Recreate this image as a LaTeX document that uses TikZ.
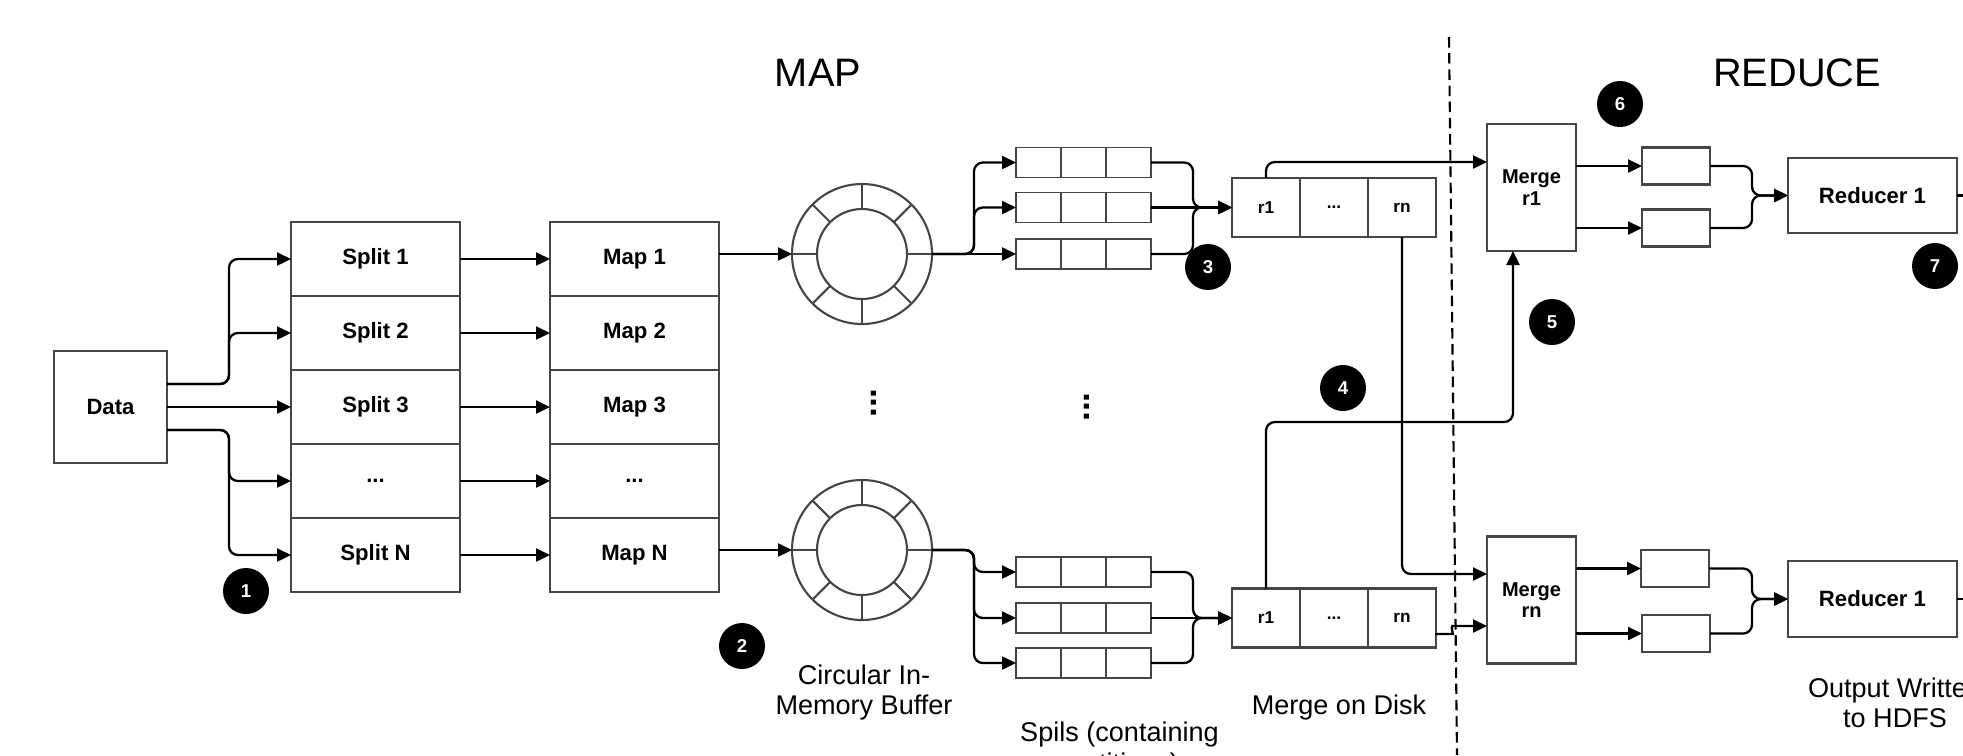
\documentclass[tikz,border=0pt]{standalone}
\usepackage{fontspec}
\setmainfont{Liberation Sans}
\usetikzlibrary{positioning,arrows.meta,calc}
\usepackage{xcolor}
\definecolor{boxline}{HTML}{454545}

\begin{document}
\begin{tikzpicture}[
      blk/.style={draw=boxline,line width=0.6pt,minimum width=1.69cm,minimum height=0.74cm,
                  font=\fontsize{6.3}{7}\selectfont\bfseries,inner sep=0pt,outer sep=0pt},
      cell/.style={draw=boxline,line width=0.55pt,minimum width=0.45cm,minimum height=0.30cm,
                  inner sep=0pt,outer sep=0pt},
      dcell/.style={draw=boxline,line width=0.6pt,minimum width=0.68cm,minimum height=0.59cm,
                  font=\fontsize{4.9}{5.5}\selectfont\bfseries,inner sep=0pt,outer sep=0pt},
      mrg/.style={draw=boxline,line width=0.6pt,minimum width=0.89cm,minimum height=1.27cm,
                  font=\fontsize{5.7}{6.2}\selectfont\bfseries,align=center,inner sep=0pt,outer sep=0pt},
      obox/.style={draw=boxline,line width=0.6pt,minimum width=0.68cm,minimum height=0.37cm,
                  inner sep=0pt,outer sep=0pt},
      ring/.style={draw=boxline,line width=0.6pt,circle,minimum size=1.40cm,inner sep=0pt,outer sep=0pt},
      badge/.style={circle,fill=black,text=white,minimum size=0.46cm,inner sep=0pt,
                  font=\fontsize{5.3}{6}\selectfont\bfseries},
      capt/.style={font=\fontsize{7.7}{8.6}\selectfont,align=center},
      ttl/.style={font=\fontsize{11.3}{13}\selectfont},
      vdot/.style={rotate=90,font=\fontsize{10}{10}\selectfont\bfseries,inner sep=0pt},
      arr/.style={-{Triangle[length=1.4mm,width=1.3mm]},line width=0.65pt,black,rounded corners=2.5pt},
      lnk/.style={line width=0.65pt,black,rounded corners=2.5pt}]
    \useasboundingbox (0,0) rectangle (19.63,-7.55);
    \clip (0,0) rectangle (19.63,-7.55);

    \node[ttl] (tmap) at (8.18,-0.73) {MAP};
    \node[ttl] (tred) at (17.97,-0.73) {REDUCE};
    \draw[black,line width=0.6pt,dash pattern=on 3pt off 1.6pt] (14.49,-0.37) -- (14.57,-7.55);

    \node[blk,minimum width=1.13cm,minimum height=1.12cm] (data) at (1.105,-4.07) {Data};
    \node[blk] (s1) at (3.755,-2.59) {Split 1};
    \node[blk] (s2) at (3.755,-3.33) {Split 2};
    \node[blk] (s3) at (3.755,-4.07) {Split 3};
    \node[blk] (s4) at (3.755,-4.81) {...};
    \node[blk] (s5) at (3.755,-5.55) {Split N};
    \node[blk] (m1) at (6.345,-2.59) {Map 1};
    \node[blk] (m2) at (6.345,-3.33) {Map 2};
    \node[blk] (m3) at (6.345,-4.07) {Map 3};
    \node[blk] (m4) at (6.345,-4.81) {...};
    \node[blk] (m5) at (6.345,-5.55) {Map N};

    \draw[arr] ([yshift=2.3mm]data.east) -- ++(0.62,0) |- (s1.west);
    \draw[arr] ([yshift=2.3mm]data.east) -- ++(0.62,0) |- (s2.west);
    \draw[arr] (data.east) -- (s3.west);
    \draw[arr] ([yshift=-2.3mm]data.east) -- ++(0.62,0) |- (s4.west);
    \draw[arr] ([yshift=-2.3mm]data.east) -- ++(0.62,0) |- (s5.west);
    \foreach \i in {1,...,5}
      \draw[arr] (s\i.east) -- (m\i.west);

    \node[ring] (buf1) at (8.62,-2.54) {};
    \node[ring] (buf2) at (8.62,-5.50) {};
    \foreach \b in {buf1,buf2} {
      \draw[boxline,line width=0.6pt] (\b.center) circle (0.45);
      \foreach \a in {0,45,...,315}
        \draw[boxline,line width=0.6pt] ($(\b.center)+(\a:0.45)$) -- (\b.\a);
    }
    \draw[arr] (m1.east |- buf1.west) -- (buf1.west);
    \draw[arr] (m5.east |- buf2.west) -- (buf2.west);
    \node[vdot] (dots1) at (8.74,-4.03) {...};
    \node[vdot] (dots2) at (10.87,-4.07) {...};

    \foreach \r/\yy in {1/-1.625,2/-2.075,3/-2.54}
      \foreach \c in {1,2,3}
        \node[cell] (su\r\c) at ({9.935+0.45*\c},\yy) {};
    \foreach \r/\yy in {1/-5.72,2/-6.18,3/-6.63}
      \foreach \c in {1,2,3}
        \node[cell] (sl\r\c) at ({9.935+0.45*\c},\yy) {};

    \draw[arr] (buf1.east) -- ++(0.42,0) |- (su11.west);
    \draw[arr] (buf1.east) -- ++(0.42,0) |- (su21.west);
    \draw[arr] (buf1.east) -- (su31.west);
    \foreach \r in {1,2,3}
      \draw[arr] (buf2.east) -- ++(0.42,0) |- (sl\r1.west);

    \node[dcell] (mu1) at (12.66,-2.075) {r1};
    \node[dcell] (mu2) at (13.34,-2.075) {...};
    \node[dcell] (mu3) at (14.02,-2.075) {rn};
    \node[dcell] (ml1) at (12.66,-6.18) {r1};
    \node[dcell] (ml2) at (13.34,-6.18) {...};
    \node[dcell] (ml3) at (14.02,-6.18) {rn};

    \draw[arr] (su13.east) -| (11.93,-2.075) -- (mu1.west);
    \draw[arr] (su23.east) -- (mu1.west);
    \draw[arr] (su33.east) -| (11.93,-2.075) -- (mu1.west);
    \draw[arr] (sl13.east) -| (11.93,-6.18) -- (ml1.west);
    \draw[arr] (sl23.east) -- (ml1.west);
    \draw[arr] (sl33.east) -| (11.93,-6.18) -- (ml1.west);

    \node[mrg] (mg1) at (15.315,-1.875) {Merge\\r1};
    \node[mrg] (mg2) at (15.315,-6.00) {Merge\\rn};
    \coordinate (j5) at (15.13,-4.22);

    \draw[arr] (mu1.north) |- ([yshift=2.55mm]mg1.west);
    \draw[arr] (ml1.north) |- (j5) -- (j5 |- mg1.south);
    \draw[arr] (mu3.south) |- ([yshift=2.6mm]mg2.west);
    \draw[arr] ([yshift=-1.6mm]ml3.east) -- (14.44,-6.34)
      .. controls (14.53,-6.34) and (14.51,-6.26) .. (14.61,-6.26) -- ([yshift=-2.6mm]mg2.west);

    \node[obox] (ob1) at (16.76,-1.66) {};
    \node[obox] (ob2) at (16.76,-2.28) {};
    \node[obox] (ob3) at (16.75,-5.685) {};
    \node[obox] (ob4) at (16.76,-6.335) {};
    \draw[arr] (mg1.east |- ob1.west) -- (ob1.west);
    \draw[arr] (mg1.east |- ob2.west) -- (ob2.west);
    \draw[arr] (mg2.east |- ob3.west) -- (ob3.west);
    \draw[arr] (mg2.east |- ob4.west) -- (ob4.west);

    \node[blk,minimum height=0.75cm] (rd1) at (18.725,-1.955) {Reducer 1};
    \node[blk,minimum height=0.76cm] (rd2) at (18.725,-5.99) {Reducer 1};
    \draw[arr] (ob1.east) -| (17.52,-1.955) -- (rd1.west);
    \draw[arr] (ob2.east) -| (17.52,-1.955) -- (rd1.west);
    \draw[arr] (ob3.east) -| (17.52,-5.99) -- (rd2.west);
    \draw[arr] (ob4.east) -| (17.52,-5.99) -- (rd2.west);
    \draw[lnk] (rd1.east) -- ++(0.2,0);
    \draw[lnk] (rd2.east) -- ++(0.2,0);

    \node[badge] (n1) at (2.46,-5.91) {1};
    \node[badge] (n2) at (7.42,-6.46) {2};
    \node[badge] (n3) at (12.08,-2.67) {3};
    \node[badge] (n4) at (13.43,-3.88) {4};
    \node[badge] (n5) at (15.52,-3.22) {5};
    \node[badge] (n6) at (16.20,-1.04) {6};
    \node[badge] (n7) at (19.35,-2.66) {7};

    \node[capt] (cbuf) at (8.64,-6.925) {Circular In-\\Memory Buffer};
    \node[capt] (cspl) at (11.195,-7.50) {Spils (containing\\partitions)};
    \node[capt] (cdsk) at (13.39,-7.07) {Merge on Disk};
    \node[capt] (cout) at (18.95,-7.03) {Output Written\\to HDFS};
  \end{tikzpicture}
\end{document}
